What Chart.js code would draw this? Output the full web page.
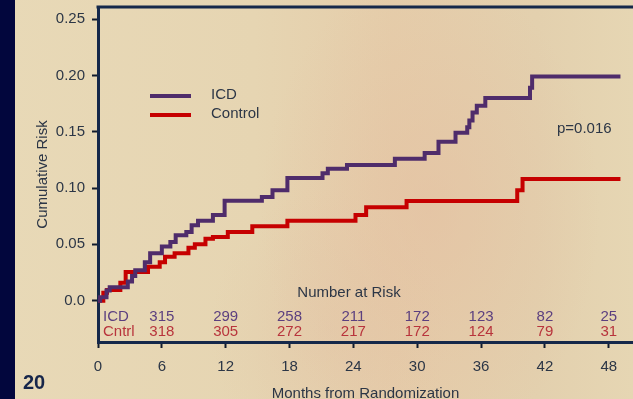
<!DOCTYPE html>
<html>
<head>
<meta charset="utf-8">
<script src="https://cdn.jsdelivr.net/npm/chart.js@4/dist/chart.umd.min.js"></script>
<style>
  html, body { margin: 0; padding: 0; }
  body {
    width: 633px; height: 399px; overflow: hidden; position: relative;
    background:
      radial-gradient(ellipse 170px 240px at 430px 210px, rgba(228,190,160,0.55), rgba(228,190,160,0) 100%),
      radial-gradient(ellipse 120px 140px at 330px 330px, rgba(226,196,166,0.45), rgba(226,196,166,0) 100%),
      linear-gradient(90deg, #e8d9b7 0%, #e6d5b2 40%, #e5cdaa 62%, #e3d0ae 85%, #e6d6b3 100%);
  }
  #strip { position: absolute; left: 0; top: 0; width: 15px; height: 399px; background: #02063d; }
  #wrap { position: absolute; left: 0; top: 0; width: 633px; height: 399px; }
</style>
</head>
<body>
<div id="strip"></div>
<div id="wrap"><canvas id="km" width="633" height="399"></canvas></div>
<script>
// Kaplan-Meier style cumulative risk, step changes (month, risk)
const icdMonths = [0, 0.2, 0.8, 1.1, 2.8, 3.2, 3.5, 4.4, 4.9, 6.0, 6.8, 7.3, 8.3, 8.8, 9.4, 10.8, 11.9, 15.4, 16.4, 17.8, 21.1, 21.6, 23.4, 27.9, 30.7, 32.0, 33.6, 34.7, 34.9, 35.2, 35.6, 36.4, 40.6, 40.8, 49.1];
const icdRisk   = [0.0, 0.003, 0.009, 0.012, 0.017, 0.022, 0.027, 0.034, 0.042, 0.048, 0.052, 0.058, 0.061, 0.067, 0.071, 0.076, 0.0886, 0.092, 0.098, 0.109, 0.113, 0.117, 0.1205, 0.126, 0.131, 0.141, 0.149, 0.154, 0.160, 0.167, 0.173, 0.180, 0.189, 0.199, 0.199];

const ctlMonths = [0, 0.5, 0.85, 2.1, 2.6, 4.7, 5.8, 6.3, 7.2, 8.5, 9.1, 10.1, 10.8, 12.2, 14.5, 17.8, 24.2, 25.2, 29.0, 39.4, 39.9, 49.1];
const ctlRisk   = [0.0, 0.007, 0.0095, 0.016, 0.0255, 0.030, 0.034, 0.039, 0.042, 0.047, 0.050, 0.055, 0.0566, 0.061, 0.066, 0.071, 0.076, 0.083, 0.0885, 0.098, 0.108, 0.108];

// Axis ticks
const xTickValues = [0, 6, 12, 18, 24, 30, 36, 42, 48];
const yTickValues = [0, 0.05, 0.10, 0.15, 0.20, 0.25];
const yTickLabels = ['0.0', '0.05', '0.10', '0.15', '0.20', '0.25'];

// Number at risk table
const riskMonths = [6, 12, 18, 24, 30, 36, 42, 48];
const icdAtRisk  = [315, 299, 258, 211, 172, 123, 82, 25];
const ctlAtRisk  = [318, 305, 272, 217, 172, 124, 79, 31];

const pValueText = 'p=0.016';

const FONT = "'Liberation Sans', Arial, sans-serif";
const INK = '#2c3646';
const NAVY = '#15284a';
const ICD_COLOR = '#4f2c6b';
const CTL_COLOR = '#c60000';

const toPoints = (xs, ys) => xs.map((x, i) => ({ x: x, y: ys[i] }));

const overlay = {
  id: 'overlay',
  afterDraw(chart) {
    const { ctx, chartArea, scales } = chart;
    const xs = scales.x;
    ctx.save();

    // frame top line
    ctx.strokeStyle = NAVY;
    ctx.lineWidth = 3;
    ctx.beginPath();
    ctx.moveTo(chartArea.left - 1.5, chartArea.top);
    ctx.lineTo(chartArea.right, chartArea.top);
    ctx.stroke();

    // legend
    const ds = chart.data.datasets;
    const legendY = [96, 115];
    ctx.font = '15px ' + FONT;
    ctx.textBaseline = 'middle';
    ctx.textAlign = 'left';
    ds.forEach((d, i) => {
      ctx.strokeStyle = d.borderColor;
      ctx.lineWidth = 4;
      ctx.beginPath();
      ctx.moveTo(150, legendY[i]);
      ctx.lineTo(191, legendY[i]);
      ctx.stroke();
      ctx.fillStyle = INK;
      ctx.fillText(d.label, 211, legendY[i] - 1.5);
    });

    // p-value
    ctx.fillStyle = INK;
    ctx.fillText(pValueText, 557, 129);

    // number at risk
    ctx.textAlign = 'center';
    ctx.fillText('Number at Risk', 349, 293);
    ctx.textAlign = 'left';
    ctx.fillStyle = '#5b3f7f';
    ctx.fillText('ICD', 103, 317);
    ctx.fillStyle = '#b8343c';
    ctx.fillText('Cntrl', 103, 332);
    ctx.textAlign = 'center';
    riskMonths.forEach((m, i) => {
      const px = xs.getPixelForValue(m);
      ctx.fillStyle = '#5b3f7f';
      ctx.fillText(String(icdAtRisk[i]), px, 317);
      ctx.fillStyle = '#b8343c';
      ctx.fillText(String(ctlAtRisk[i]), px, 332);
    });

    // slide number
    ctx.fillStyle = '#17264a';
    ctx.font = 'bold 20px ' + FONT;
    ctx.textAlign = 'left';
    ctx.fillText('20', 23, 383);
    ctx.restore();
  }
};

new Chart(document.getElementById('km'), {
  type: 'line',
  data: {
    datasets: [
      {
        label: 'ICD',
        data: toPoints(icdMonths, icdRisk),
        borderColor: ICD_COLOR,
        borderWidth: 4,
        stepped: 'before',
        pointRadius: 0,
        fill: false
      },
      {
        label: 'Control',
        data: toPoints(ctlMonths, ctlRisk),
        borderColor: CTL_COLOR,
        borderWidth: 4,
        stepped: 'before',
        pointRadius: 0,
        fill: false
      }
    ]
  },
  options: {
    responsive: false,
    devicePixelRatio: 1,
    animation: false,
    layout: { padding: { top: 7, left: 0, right: 0, bottom: 0 } },
    plugins: { legend: { display: false }, tooltip: { enabled: false } },
    scales: {
      x: {
        type: 'linear',
        min: 0,
        max: 50.28,
        afterFit(s) { s.height = 57; s.paddingLeft = 0; s.paddingRight = 0; },
        afterBuildTicks(s) { s.ticks = xTickValues.map(v => ({ value: v })); },
        border: { display: true, color: NAVY, width: 3 },
        grid: { drawOnChartArea: false, drawTicks: true, tickLength: 6, tickWidth: 2, color: '#101a2c' },
        ticks: { font: { family: FONT, size: 15 }, color: INK, padding: 10, maxRotation: 0, autoSkip: false },
        title: { display: true, text: 'Months from Randomization', font: { family: FONT, size: 15 }, color: INK, padding: { top: 0, bottom: -4 } }
      },
      y: {
        type: 'linear',
        min: -0.0367,
        max: 0.2607,
        afterFit(s) { s.width = 98; s.paddingTop = 0; s.paddingBottom = 0; },
        afterBuildTicks(s) { s.ticks = yTickValues.map(v => ({ value: v })); },
        border: { display: true, color: NAVY, width: 3 },
        grid: { drawOnChartArea: false, drawTicks: true, tickLength: 6, tickWidth: 2, color: '#101a2c' },
        ticks: {
          font: { family: FONT, size: 15 }, color: INK, padding: 7, autoSkip: false,
          callback(value) {
            const i = yTickValues.findIndex(v => Math.abs(v - value) < 1e-9);
            return i >= 0 ? yTickLabels[i] : '';
          }
        },
        title: { display: true, text: 'Cumulative Risk', font: { family: FONT, size: 15 }, color: INK, padding: { top: 34, bottom: 0 } }
      }
    }
  },
  plugins: [overlay]
});
</script>
</body>
</html>
